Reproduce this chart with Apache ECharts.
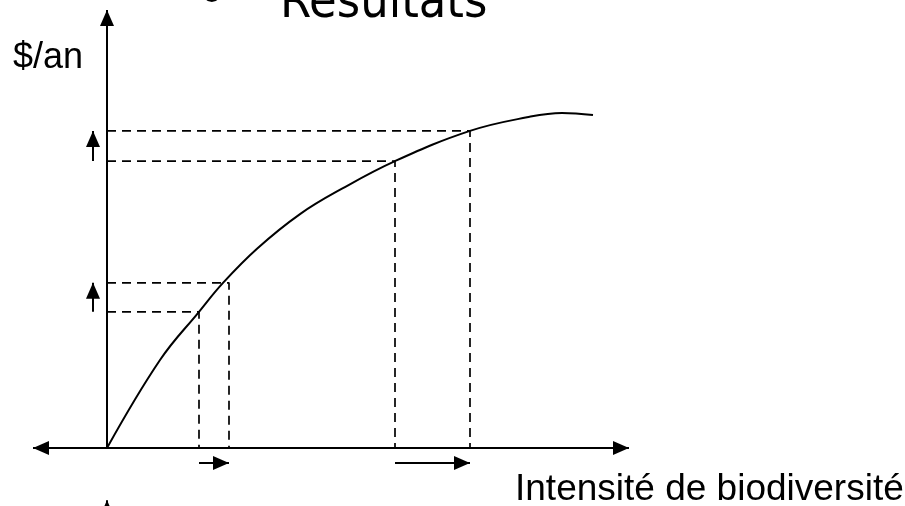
<!DOCTYPE html>
<html>
<head>
<meta charset="utf-8">
<script src="https://cdn.jsdelivr.net/npm/echarts@6/dist/echarts.min.js"></script>
<style>
html,body{margin:0;padding:0;background:#fff;}
#chart{width:905px;height:506px;}
</style>
</head>
<body>
<div id="chart"></div>
<script>
// ---- data (abstract units: intensité de biodiversité vs $/an) ----
const curveX = [0, 10.6, 18.4, 23.2, 30.0, 38.6, 47.0, 57.6, 72.6, 84.0, 91.0, 97.2];
const curveY = [0, 20.1, 31.1, 37.7, 45.5, 53.4, 59.2, 65.5, 72.4, 75.5, 76.5, 76.0];
const guideX = [18.4, 24.4, 57.6, 72.6];
const guideY = [31.1, 37.7, 65.5, 72.4];
const axisXExtent = [-14.8, 104.4];
const axisYExtent = [0, 100];
const shiftYArrowX = -2.8;
const shiftXArrowY = -3.4;
const bullet = '•';
const titleText = 'Résultats';
const yName = '$/an';
const xName = 'Intensité de biodiversité';

const chart = echarts.init(document.getElementById('chart'), null, {renderer: 'canvas'});

const curveData = curveX.map((x, i) => [x, curveY[i]]);
const guideSeries = guideX.map((gx, i) => ({
  type: 'line',
  data: [[0, guideY[i]], [gx, guideY[i]], [gx, 0]],
  symbol: 'none',
  silent: true,
  lineStyle: {color: '#000', width: 1.7, type: [9, 6]},
  z: 2
}));

const arrowStyle = {color: '#000', width: 2, type: 'solid'};
function seg(a, b) { return [{coord: a}, {coord: b}]; }

chart.setOption({
  animation: false,
  grid: {left: 0, right: 0, top: 0, bottom: 0},
  xAxis: {type: 'value', min: -21.4, max: 159.6, show: false},
  yAxis: {type: 'value', min: -13.24, max: 102.28, show: false},
  series: [
    {
      type: 'line',
      data: curveData,
      symbol: 'none',
      smooth: 0.4,
      silent: true,
      lineStyle: {color: '#000', width: 2},
      z: 3,
      markLine: {
        silent: true,
        symbol: ['triangle', 'triangle'],
        symbolSize: [14, 16],
        symbolOffset: [[0, 8], [0, 8]],
        label: {show: false},
        lineStyle: arrowStyle,
        emphasis: {disabled: true},
        data: [
          seg([axisXExtent[0], 0], [axisXExtent[1], 0])
        ]
      }
    },
    {
      type: 'line',
      data: [],
      symbol: 'none',
      silent: true,
      markLine: {
        silent: true,
        symbol: ['none', 'triangle'],
        symbolSize: [14, 16],
        symbolOffset: [0, [0, 8]],
        label: {show: false},
        lineStyle: arrowStyle,
        emphasis: {disabled: true},
        data: [
          seg([0, axisYExtent[0]], [0, axisYExtent[1]]),
          seg([shiftYArrowX, guideY[2]], [shiftYArrowX, guideY[3]]),
          seg([shiftYArrowX, guideY[0]], [shiftYArrowX, guideY[1]]),
          seg([guideX[0], shiftXArrowY], [guideX[1], shiftXArrowY]),
          seg([guideX[2], shiftXArrowY], [guideX[3], shiftXArrowY]),
          seg([0, -13.2], [0, -11.9])
        ]
      }
    }
  ].concat(guideSeries),
  graphic: [
    {type: 'text', x: 212, y: -3, silent: true,
     style: {text: bullet, font: '70px "Liberation Sans", Arial, sans-serif', fill: '#000', align: 'center', verticalAlign: 'middle'}},
    {type: 'text', x: 280, y: 4, silent: true,
     style: {text: titleText, font: '50px "DejaVu Sans Condensed", sans-serif', fill: '#000', align: 'left', verticalAlign: 'middle'}},
    {type: 'text', x: 13, y: 58, silent: true,
     style: {text: yName, font: '36px "Liberation Sans", Arial, sans-serif', fill: '#000', align: 'left', verticalAlign: 'middle'}},
    {type: 'text', x: 515, y: 490, silent: true,
     style: {text: xName, font: '37px "Liberation Sans", Arial, sans-serif', fill: '#000', align: 'left', verticalAlign: 'middle'}}
  ]
});
</script>
</body>
</html>
